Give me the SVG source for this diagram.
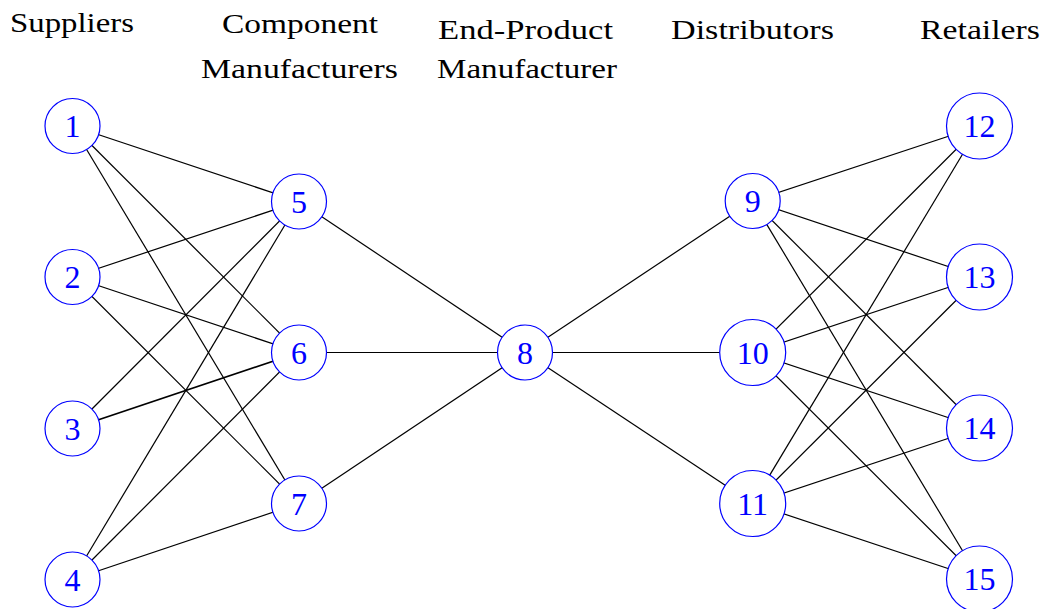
<svg xmlns="http://www.w3.org/2000/svg" width="1044" height="609" viewBox="0 0 1044 609">
<style>
.h{font-family:"Liberation Serif","DejaVu Serif",serif;font-size:28px;fill:#000;text-anchor:middle}
.e{stroke:#000;stroke-width:1.2;fill:none}
.n circle{fill:#fff;stroke:#0000ff;stroke-width:1.2}
.n text{font-family:"Liberation Serif","DejaVu Serif",serif;font-size:32px;fill:#0000ff;text-anchor:middle}
</style>
<rect width="1044" height="609" fill="#fff"/>
<g id="headers">
<text class="h" x="72" y="32" textLength="124" lengthAdjust="spacingAndGlyphs">Suppliers</text>
<text class="h" x="300" y="33" textLength="156" lengthAdjust="spacingAndGlyphs">Component</text>
<text class="h" x="299.5" y="78" textLength="197" lengthAdjust="spacingAndGlyphs">Manufacturers</text>
<text class="h" x="525.5" y="39" textLength="175" lengthAdjust="spacingAndGlyphs">End-Product</text>
<text class="h" x="527" y="78" textLength="180" lengthAdjust="spacingAndGlyphs">Manufacturer</text>
<text class="h" x="752.5" y="39" textLength="163" lengthAdjust="spacingAndGlyphs">Distributors</text>
<text class="h" x="980" y="39" textLength="120" lengthAdjust="spacingAndGlyphs">Retailers</text>
</g>
<g id="connectors">
<line class="e" x1="72.5" y1="126" x2="299" y2="201.5"/>
<line class="e" x1="72.5" y1="126" x2="299" y2="352.5"/>
<line class="e" x1="72.5" y1="126" x2="299" y2="503.5"/>
<line class="e" x1="72.5" y1="277" x2="299" y2="201.5"/>
<line class="e" x1="72.5" y1="277" x2="299" y2="352.5"/>
<line class="e" x1="72.5" y1="277" x2="299" y2="503.5"/>
<line class="e" x1="72.5" y1="428.5" x2="299" y2="201.5"/>
<line class="e" x1="72.5" y1="428.5" x2="299" y2="352.5" style="stroke-width:1.7"/>
<line class="e" x1="72.5" y1="579.5" x2="299" y2="201.5"/>
<line class="e" x1="72.5" y1="579.5" x2="299" y2="352.5"/>
<line class="e" x1="72.5" y1="579.5" x2="299" y2="503.5"/>
<line class="e" x1="299" y1="201.5" x2="525" y2="352.5"/>
<line class="e" x1="299" y1="352.5" x2="525" y2="352.5"/>
<line class="e" x1="299" y1="503.5" x2="525" y2="352.5"/>
<line class="e" x1="525" y1="352.5" x2="752.7" y2="201"/>
<line class="e" x1="525" y1="352.5" x2="752.7" y2="352.5"/>
<line class="e" x1="525" y1="352.5" x2="752.7" y2="503.5"/>
<line class="e" x1="752.7" y1="201" x2="979.5" y2="126"/>
<line class="e" x1="752.7" y1="201" x2="979.5" y2="277"/>
<line class="e" x1="752.7" y1="201" x2="979.5" y2="428"/>
<line class="e" x1="752.7" y1="201" x2="979.5" y2="579"/>
<line class="e" x1="752.7" y1="352.5" x2="979.5" y2="126"/>
<line class="e" x1="752.7" y1="352.5" x2="979.5" y2="277"/>
<line class="e" x1="752.7" y1="352.5" x2="979.5" y2="428"/>
<line class="e" x1="752.7" y1="352.5" x2="979.5" y2="579"/>
<line class="e" x1="752.7" y1="503.5" x2="979.5" y2="126"/>
<line class="e" x1="752.7" y1="503.5" x2="979.5" y2="277"/>
<line class="e" x1="752.7" y1="503.5" x2="979.5" y2="428"/>
<line class="e" x1="752.7" y1="503.5" x2="979.5" y2="579"/>
</g>
<g id="node1" class="n"><circle cx="72.5" cy="126" r="27.5"/><text x="72.5" y="137">1</text></g>
<g id="node2" class="n"><circle cx="72.5" cy="277" r="27.5"/><text x="72.5" y="288">2</text></g>
<g id="node3" class="n"><circle cx="72.5" cy="428.5" r="27.5"/><text x="72.5" y="439.5">3</text></g>
<g id="node4" class="n"><circle cx="72.5" cy="579.5" r="27.5"/><text x="72.5" y="590.5">4</text></g>
<g id="node5" class="n"><circle cx="299" cy="201.5" r="27.5"/><text x="299" y="212.5">5</text></g>
<g id="node6" class="n"><circle cx="299" cy="352.5" r="27.5"/><text x="299" y="363.5">6</text></g>
<g id="node7" class="n"><circle cx="299" cy="503.5" r="27.5"/><text x="299" y="514.5">7</text></g>
<g id="node8" class="n"><circle cx="525" cy="352.5" r="27.5"/><text x="525" y="363.5">8</text></g>
<g id="node9" class="n"><circle cx="752.7" cy="201" r="27.5"/><text x="752.7" y="212">9</text></g>
<g id="node10" class="n"><circle cx="752.7" cy="352.5" r="33"/><text x="752.7" y="363.5">10</text></g>
<g id="node11" class="n"><circle cx="752.7" cy="503.5" r="33"/><text x="752.7" y="514.5">11</text></g>
<g id="node12" class="n"><circle cx="979.5" cy="126" r="33"/><text x="979.5" y="137">12</text></g>
<g id="node13" class="n"><circle cx="979.5" cy="277" r="33"/><text x="979.5" y="288">13</text></g>
<g id="node14" class="n"><circle cx="979.5" cy="428" r="33"/><text x="979.5" y="439">14</text></g>
<g id="node15" class="n"><circle cx="979.5" cy="579" r="33"/><text x="979.5" y="590">15</text></g>
</svg>
